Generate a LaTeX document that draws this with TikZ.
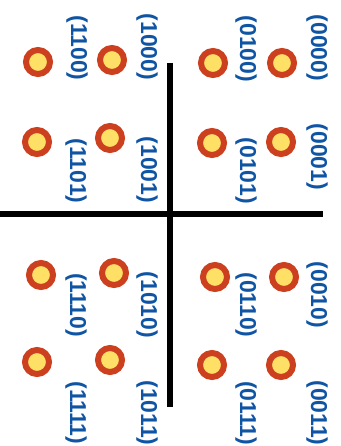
\documentclass[tikz,border=0pt]{standalone}
\usepackage{fontspec}
\newfontfamily\labelfont{Liberation Sans Bold}
\definecolor{codeblue}{RGB}{16,84,164}
\definecolor{ringred}{RGB}{204,64,32}
\definecolor{dotyellow}{RGB}{255,224,102}
\tikzset{
  sym/.style={circle, draw=ringred, fill=dotyellow, line width=6pt, minimum size=24pt, inner sep=0pt},
  code/.style={rotate=-90, inner sep=0pt, text=codeblue, font=\labelfont\fontsize{23pt}{25pt}\selectfont},
  axis/.style={line width=6pt, black}
}
\begin{document}
\begin{tikzpicture}[x=1pt, y=-1pt]
\useasboundingbox (0,0) rectangle (340,446);
% axes
\coordinate (hl) at (0,214);
\coordinate (hr) at (323,214);
\coordinate (vt) at (170,63);
\coordinate (vb) at (170,407);
\draw[axis] (hl) -- (hr);
\draw[axis] (vt) -- (vb);
% constellation points
\node[sym] (p1100) at (38,62) {};
\node[sym] (p1000) at (112,60) {};
\node[sym] (p0100) at (213,63) {};
\node[sym] (p0000) at (282,63) {};
\node[sym] (p1101) at (37,142) {};
\node[sym] (p1001) at (110,138) {};
\node[sym] (p0101) at (212,143) {};
\node[sym] (p0001) at (281,142) {};
\node[sym] (p1110) at (41,275) {};
\node[sym] (p1010) at (114,273) {};
\node[sym] (p0110) at (215,277) {};
\node[sym] (p0010) at (284,277) {};
\node[sym] (p1111) at (37,362) {};
\node[sym] (p1011) at (110,360) {};
\node[sym] (p0111) at (212,365) {};
\node[sym] (p0011) at (281,365) {};
% bit labels
\node[code] (l1100) at (77,48) {(1100)};
\node[code] (l1000) at (147,47) {(1000)};
\node[code] (l0100) at (246,49) {(0100)};
\node[code] (l0000) at (317,48) {(0000)};
\node[code] (l1101) at (76,171) {(1101)};
\node[code] (l1001) at (147,170) {(1001)};
\node[code] (l0101) at (246,171) {(0101)};
\node[code] (l0001) at (317,157) {(0001)};
\node[code] (l1110) at (76,305) {(1110)};
\node[code] (l1010) at (147,305) {(1010)};
\node[code] (l0110) at (246,305) {(0110)};
\node[code] (l0010) at (317,295) {(0010)};
\node[code] (l1111) at (76,413) {(1111)};
\node[code] (l1011) at (147,413) {(1011)};
\node[code] (l0111) at (246,413) {(0111)};
\node[code] (l0011) at (317,413) {(0011)};
\end{tikzpicture}
\end{document}
